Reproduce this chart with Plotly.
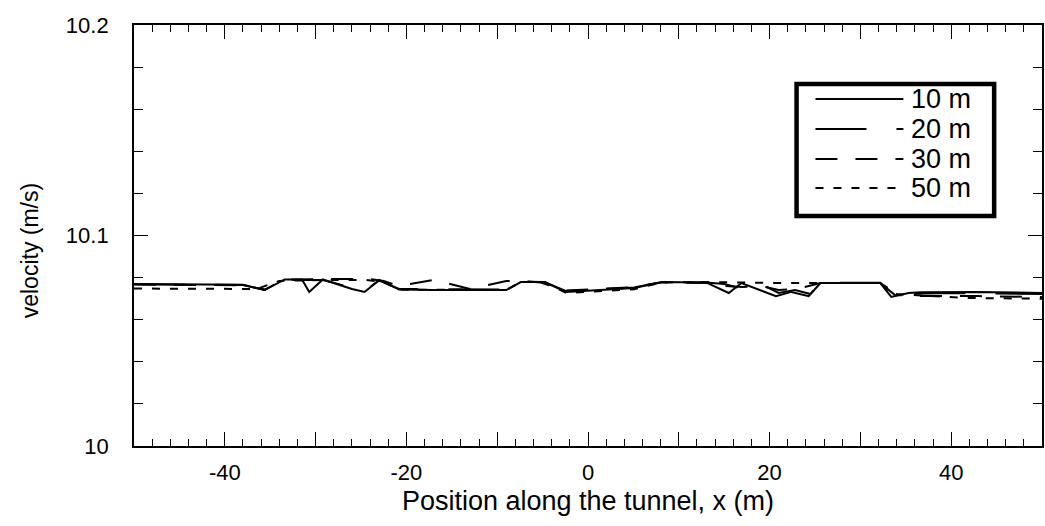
import plotly.graph_objects as go

# ---- data ----
x_10m = [-50, -44, -38, -35.6, -33.4, -31.5, -30.7, -29.2, -26.0, -24.6, -23.0, -20.8, -17.0, -9.0, -7.4, -4.8,
         -2.4, 5.1, 8.1, 13.0, 15.5, 16.9, 20.7, 22.4, 24.3, 25.6, 32.2, 33.4, 35.3, 36.7, 42.6, 50]
v_10m = [10.0770, 10.0769, 10.0766, 10.0741, 10.0791, 10.0791, 10.0732, 10.0791, 10.0746, 10.0732, 10.0789,
         10.0743, 10.0741, 10.0741, 10.0779, 10.0779, 10.0732, 10.0751, 10.0779, 10.0777, 10.0727, 10.0774,
         10.0712, 10.0732, 10.0712, 10.0774, 10.0774, 10.0708, 10.0727, 10.0730, 10.0732, 10.0727]

x_20m = [-50, -38, -35.6, -33.4, -29.2, -26.0, -24.6, -23.0, -20.8, -9.0, -7.4, -4.8, -2.4, 5.1, 8.1, 13.0,
         15.0, 17.5, 19.5, 21.0, 22.8, 24.5, 25.6, 32.2, 33.4, 35.0, 40.0, 50]
v_20m = [10.0768, 10.0765, 10.0741, 10.0789, 10.0789, 10.0751, 10.0736, 10.0786, 10.0746, 10.0743, 10.0781,
         10.0779, 10.0736, 10.0753, 10.0779, 10.0777, 10.0770, 10.0741, 10.0760, 10.0727, 10.0741, 10.0722,
         10.0776, 10.0776, 10.0712, 10.0722, 10.0727, 10.0722]

x_30m = [-50, -38, -35.6, -33.4, -29.2, -24.0, -22.5, -20.8, -17.0, -15.6, -13.0, -9.0, -7.4, -5.2, -2.6, 5.1,
         8.1, 13.0, 15.0, 17.0, 19.0, 21.0, 23.0, 25.6, 32.2, 33.8, 37.0, 43.0, 50]
v_30m = [10.0767, 10.0764, 10.0743, 10.0791, 10.0793, 10.0793, 10.0784, 10.0760, 10.0789, 10.0774, 10.0746,
         10.0784, 10.0784, 10.0777, 10.0738, 10.0755, 10.0777, 10.0774, 10.0760, 10.0755, 10.0760, 10.0741,
         10.0746, 10.0774, 10.0774, 10.0717, 10.0712, 10.0712, 10.0708]

x_50m = [-50, -36.5, -34.0, -29.0, -24.5, -22.5, -20.8, -17.0, -9.0, -7.4, -4.8, -2.4, 5.1, 8.1, 13.0, 17.0,
         20.5, 25.6, 32.2, 34.0, 42.0, 50]
v_50m = [10.0748, 10.0746, 10.0784, 10.0789, 10.0789, 10.0779, 10.0743, 10.0743, 10.0741, 10.0779, 10.0779,
         10.0727, 10.0745, 10.0777, 10.0779, 10.0777, 10.0774, 10.0774, 10.0774, 10.0722, 10.0703, 10.0700]

series_names = ["10 m", "20 m", "30 m", "50 m"]
x_tickvals = [-50, -40, -30, -20, -10, 0, 10, 20, 30, 40, 50]
x_ticktext = ["", "-40", "", "-20", "", "0", "", "20", "", "40", ""]
y_tickvals = [10.0, 10.1, 10.2]
y_ticktext = ["10", "10.1", "10.2"]

# ---- styles ----
dashes = ["solid", "51px,30px", "22px,18px", "8px,10px"]
FONT = "Liberation Sans, Arial, Helvetica, sans-serif"
LW = 2

fig = go.Figure()
for xs, vs, name, d in zip([x_10m, x_20m, x_30m, x_50m], [v_10m, v_20m, v_30m, v_50m], series_names, dashes):
    fig.add_trace(go.Scatter(x=xs, y=vs, mode="lines", name=name, showlegend=False,
                             line=dict(color="black", width=LW, dash=d)))

# legend drawn as a framed box in paper coordinates
L0, L1, T0, T1 = 0.7297, 0.9473, 0.5463, 0.8599
fig.add_shape(type="rect", xref="paper", yref="paper", x0=L0, x1=L1, y0=T0, y1=T1,
              line=dict(color="black", width=4.5), fillcolor="white", layer="above")
row_y = [0.8242, 0.7530, 0.6817, 0.6128]
for name, d, yy in zip(series_names, dashes, row_y):
    fig.add_shape(type="line", xref="paper", yref="paper", x0=0.7505, x1=0.8473, y0=yy, y1=yy,
                  line=dict(color="black", width=LW, dash=d), layer="above")
    fig.add_annotation(xref="paper", yref="paper", x=0.8538, y=yy, text=name, showarrow=False,
                       xanchor="left", yanchor="middle", font=dict(family=FONT, size=27, color="black"))

# y-axis title (placed slightly below the centre, as in the reference)
fig.add_annotation(xref="paper", yref="paper", x=-0.1143, y=0.463, text="velocity (m/s)",
                   textangle=-90, showarrow=False, xanchor="center", yanchor="middle",
                   font=dict(family=FONT, size=23, color="black"))

fig.update_layout(
    width=1045, height=526,
    margin=dict(l=134, r=1, t=25, b=80),
    paper_bgcolor="white", plot_bgcolor="white",
    font=dict(family=FONT, size=22, color="black"),
    showlegend=False,
)
fig.update_xaxes(
    range=[-50, 50], tickmode="array", tickvals=x_tickvals, ticktext=x_ticktext,
    ticks="inside", ticklen=14, tickwidth=1.3, tickcolor="black",
    minor=dict(dtick=2, ticks="inside", ticklen=7, tickwidth=1.3, tickcolor="black"),
    showline=True, linecolor="black", linewidth=1.8, mirror="allticks",
    showgrid=False, zeroline=False,
    tickfont=dict(family=FONT, size=22), ticklabelstandoff=6,
    title=dict(text="Position along the tunnel, x (m)", font=dict(family=FONT, size=27), standoff=7),
)
fig.update_yaxes(
    range=[10.0, 10.2], tickmode="array", tickvals=y_tickvals, ticktext=y_ticktext,
    ticks="inside", ticklen=14, tickwidth=1.3, tickcolor="black",
    minor=dict(dtick=0.02, ticks="inside", ticklen=9, tickwidth=1.3, tickcolor="black"),
    showline=True, linecolor="black", linewidth=1.8, mirror="allticks",
    showgrid=False, zeroline=False,
    tickfont=dict(family=FONT, size=22), ticklabelstandoff=19,
)

fig.write_html("out.html")
